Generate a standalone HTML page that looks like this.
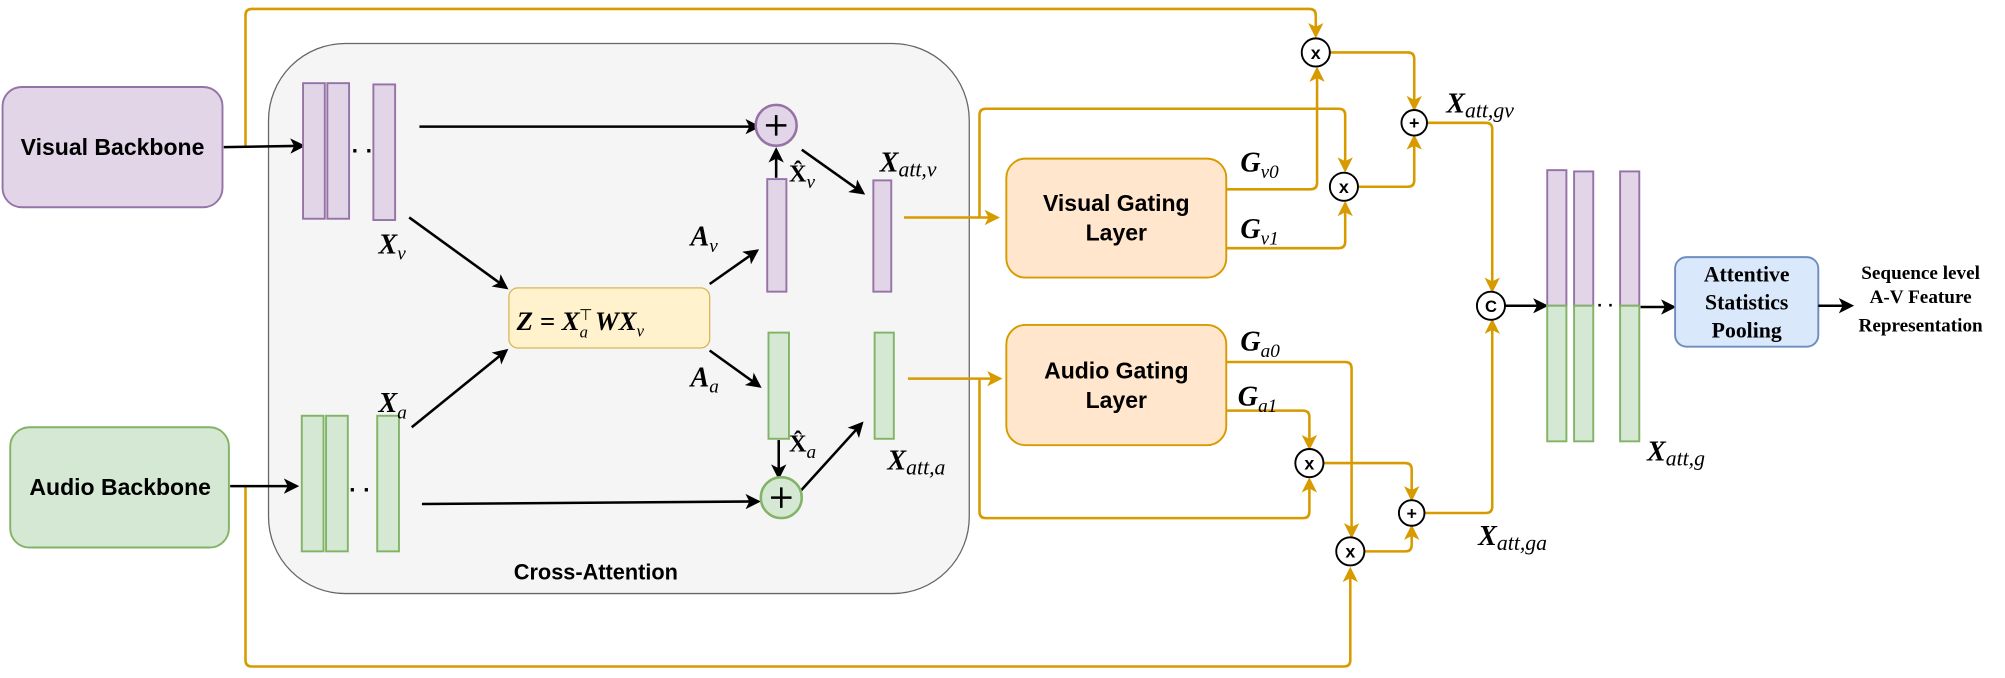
<!DOCTYPE html>
<html><head><meta charset="utf-8"><style>
html,body{margin:0;padding:0;background:#fff;width:2005px;height:678px;overflow:hidden}
svg{display:block}
.bx{font-family:"Liberation Sans",sans-serif;font-weight:bold;font-size:18px;fill:#000;text-anchor:middle}
.m{font-family:"Liberation Serif",serif;font-weight:bold;font-style:italic;font-size:22px;fill:#000}
.s{font-family:"Liberation Serif",serif;font-style:italic;font-size:15px;font-weight:normal}
.sr{font-family:"Liberation Serif",serif;font-weight:bold;font-size:15px;fill:#000;text-anchor:middle}
.o{stroke:#d79b00;stroke-width:2;fill:none}
.k{stroke:#000;stroke-width:2;fill:none}
</style></head><body>
<svg width="2005" height="678" viewBox="0 0 1568 530" preserveAspectRatio="none">
<defs>
<marker id="ak" markerWidth="12" markerHeight="12" refX="10" refY="6" orient="auto" markerUnits="userSpaceOnUse"><path d="M0,0 L12,6 L0,12 L3,6 z" fill="#000"/></marker>
<marker id="ao" markerWidth="12" markerHeight="12" refX="10" refY="6" orient="auto" markerUnits="userSpaceOnUse"><path d="M0,0 L12,6 L0,12 L3,6 z" fill="#d79b00"/></marker>
</defs>
<rect x="210" y="34" width="548" height="430" rx="60" fill="#f5f5f5" stroke="#666" stroke-width="1"/>
<text x="466" y="453" class="bx" style="font-size:17px">Cross-Attention</text>
<rect x="2" y="68" width="172" height="94" rx="15" fill="#e1d5e7" stroke="#9673a6" stroke-width="1.5"/>
<text x="88" y="121" class="bx">Visual Backbone</text>
<rect x="8" y="334" width="171" height="94" rx="15" fill="#d5e8d4" stroke="#82b366" stroke-width="1.5"/>
<text x="94" y="387" class="bx">Audio Backbone</text>
<path class="o" d="M192,115 V12 Q192,7 197,7 H1024 Q1029,7 1029,12 V28" marker-end="url(#ao)"/>
<path class="o" d="M192,380 V516 Q192,521 197,521 H1051 Q1056,521 1056,516 V445" marker-end="url(#ao)"/>
<path class="k" d="M175,115 L237,114" marker-end="url(#ak)"/>
<path class="k" d="M180,380 L232,380" marker-end="url(#ak)"/>
<g fill="#e1d5e7" stroke="#9673a6" stroke-width="1.5">
<rect x="237" y="65" width="17" height="106"/><rect x="256" y="65" width="17" height="106"/><rect x="292" y="66" width="17" height="106"/>
<rect x="600" y="140" width="15" height="88"/><rect x="683" y="141" width="14" height="87"/>
</g>
<g fill="#d5e8d4" stroke="#82b366" stroke-width="1.5">
<rect x="236" y="325" width="17" height="106"/><rect x="255" y="325" width="17" height="106"/><rect x="295" y="325" width="17" height="106"/>
<rect x="601" y="260" width="16" height="83"/><rect x="684" y="260" width="15" height="83"/>
</g>
<text x="275" y="124" font-size="18" font-weight="bold" font-family="Liberation Sans">· ·</text>
<text x="273" y="389" font-size="18" font-weight="bold" font-family="Liberation Sans">· ·</text>
<rect x="398" y="225" width="157" height="47" rx="7" fill="#fff2cc" stroke="#d6b656" stroke-width="1"/>
<text x="404" y="258" class="m" style="font-size:21px">Z = X<tspan class="s" dy="6" style="font-size:13px">a</tspan><tspan dy="-14" dx="-7" style="font-size:12px;font-style:normal;font-weight:normal">⊤</tspan><tspan dy="8" dx="2">WX</tspan><tspan class="s" dy="5" style="font-size:13px">v</tspan></text>
<path class="k" d="M328,99 L593,99" marker-end="url(#ak)"/>
<path class="k" d="M330,394 L593,392" marker-end="url(#ak)"/>
<path class="k" d="M320,170 L396,225" marker-end="url(#ak)"/>
<path class="k" d="M322,334 L396,274" marker-end="url(#ak)"/>
<path class="k" d="M555,222 L592,196" marker-end="url(#ak)"/>
<path class="k" d="M555,274 L594,302" marker-end="url(#ak)"/>
<path class="k" d="M607,139 L607,117" marker-end="url(#ak)"/>
<path class="k" d="M609,344 L609,373" marker-end="url(#ak)"/>
<path class="k" d="M627,117 L675,151" marker-end="url(#ak)"/>
<path class="k" d="M625,385 L674,331" marker-end="url(#ak)"/>
<circle cx="607" cy="98" r="16" fill="#e1d5e7" stroke="#9673a6" stroke-width="2"/>
<path d="M599,98 H615 M607,90 V106" stroke="#000" stroke-width="2"/>
<circle cx="611" cy="389" r="16" fill="#d5e8d4" stroke="#82b366" stroke-width="2"/>
<path d="M603,389 H619 M611,381 V397" stroke="#000" stroke-width="2"/>
<text x="296" y="198" class="m">X<tspan class="s" dy="5">v</tspan></text>
<text x="296" y="322" class="m">X<tspan class="s" dy="5">a</tspan></text>
<text x="540" y="192" class="m">A<tspan class="s" dy="5">v</tspan></text>
<text x="540" y="302" class="m">A<tspan class="s" dy="5">a</tspan></text>
<text x="617" y="142" class="m" style="font-style:normal;font-size:19px">X̂<tspan class="s" dy="5">v</tspan></text>
<text x="617" y="353" class="m" style="font-style:normal;font-size:19px">X̂<tspan class="s" dy="5">a</tspan></text>
<text x="688" y="134" class="m">X<tspan class="s" dy="4" style="font-size:17px">att,v</tspan></text>
<text x="694" y="367" class="m">X<tspan class="s" dy="4" style="font-size:17px">att,a</tspan></text>
<path class="o" d="M707,170 L780,170" marker-end="url(#ao)"/>
<path class="o" d="M766,170 V90 Q766,85 771,85 H1047 Q1052,85 1052,90 V133" marker-end="url(#ao)"/>
<path class="o" d="M710,296 L782,296" marker-end="url(#ao)"/>
<path class="o" d="M766,296 V400 Q766,405 771,405 H1019 Q1024,405 1024,400 V375" marker-end="url(#ao)"/>
<rect x="787" y="124" width="172" height="93" rx="15" fill="#ffe6cc" stroke="#d79b00" stroke-width="1.5"/>
<text x="873" y="165" class="bx">Visual Gating</text><text x="873" y="188" class="bx">Layer</text>
<rect x="787" y="254" width="172" height="94" rx="15" fill="#ffe6cc" stroke="#d79b00" stroke-width="1.5"/>
<text x="873" y="296" class="bx">Audio Gating</text><text x="873" y="319" class="bx">Layer</text>
<path class="o" d="M959,148 H1025 Q1030,148 1030,143 V54" marker-end="url(#ao)"/>
<path class="o" d="M959,194 H1047 Q1052,194 1052,189 V159" marker-end="url(#ao)"/>
<path class="o" d="M959,283 H1052 Q1057,283 1057,288 V419" marker-end="url(#ao)"/>
<path class="o" d="M959,321 H1019 Q1024,321 1024,326 V350" marker-end="url(#ao)"/>
<text x="970" y="134" class="m">G<tspan class="s" dy="5">v0</tspan></text>
<text x="970" y="186" class="m">G<tspan class="s" dy="5">v1</tspan></text>
<text x="970" y="274" class="m">G<tspan class="s" dy="5">a0</tspan></text>
<text x="968" y="317" class="m">G<tspan class="s" dy="5">a1</tspan></text>
<path class="o" d="M1040,41 H1101 Q1106,41 1106,46 V85" marker-end="url(#ao)"/>
<path class="o" d="M1062,146 H1101 Q1106,146 1106,141 V107" marker-end="url(#ao)"/>
<path class="o" d="M1035,362 H1099 Q1104,362 1104,367 V390" marker-end="url(#ao)"/>
<path class="o" d="M1067,431 H1099 Q1104,431 1104,426 V412" marker-end="url(#ao)"/>
<path class="o" d="M1116,96 H1162 Q1167,96 1167,101 V227" marker-end="url(#ao)"/>
<path class="o" d="M1114,401 H1162 Q1167,401 1167,396 V251" marker-end="url(#ao)"/>
<g fill="#fff" stroke="#000" stroke-width="1.5">
<circle cx="1029" cy="41" r="11"/><circle cx="1051" cy="146" r="11"/><circle cx="1024" cy="362" r="11"/><circle cx="1056" cy="431" r="11"/>
<circle cx="1106" cy="96" r="10"/><circle cx="1104" cy="401" r="10"/><circle cx="1166" cy="239" r="11"/>
</g>
<g font-family="Liberation Sans" font-weight="bold" font-size="14" text-anchor="middle">
<text x="1029" y="46">x</text><text x="1051" y="151">x</text><text x="1024" y="367">x</text><text x="1056" y="436">x</text>
<text x="1106" y="101">+</text><text x="1104" y="406">+</text><text x="1166" y="244" font-size="13">C</text>
</g>
<text x="1131" y="88" class="m">X<tspan class="s" dy="4" style="font-size:17px">att,gv</tspan></text>
<text x="1156" y="426" class="m">X<tspan class="s" dy="4" style="font-size:17px">att,ga</tspan></text>
<path class="k" d="M1177,239 L1209,239" marker-end="url(#ak)"/>
<g fill="#e1d5e7" stroke="#9673a6" stroke-width="1.5">
<rect x="1210" y="133" width="15" height="106"/><rect x="1231" y="134" width="15" height="105"/><rect x="1267" y="134" width="15" height="105"/>
</g>
<g fill="#d5e8d4" stroke="#82b366" stroke-width="1.5">
<rect x="1210" y="239" width="15" height="106"/><rect x="1231" y="239" width="15" height="106"/><rect x="1267" y="239" width="15" height="106"/>
</g>
<text x="1249" y="243" font-size="14" font-weight="bold" font-family="Liberation Sans">· ·</text>
<text x="1288" y="360" class="m">X<tspan class="s" dy="4" style="font-size:17px">att,g</tspan></text>
<path class="k" d="M1283,240 L1309,240" marker-end="url(#ak)"/>
<rect x="1310" y="201" width="112" height="70" rx="9" fill="#dae8fc" stroke="#6c8ebf" stroke-width="1.5"/>
<text x="1366" y="220" class="sr" style="font-size:17px">Attentive</text>
<text x="1366" y="242" class="sr" style="font-size:17px">Statistics</text>
<text x="1366" y="264" class="sr" style="font-size:17px">Pooling</text>
<path class="k" d="M1422,239 L1448,239" marker-end="url(#ak)"/>
<text x="1502" y="218" class="sr">Sequence level</text>
<text x="1502" y="237" class="sr">A-V Feature</text>
<text x="1502" y="259" class="sr">Representation</text>
</svg>
</body></html>
